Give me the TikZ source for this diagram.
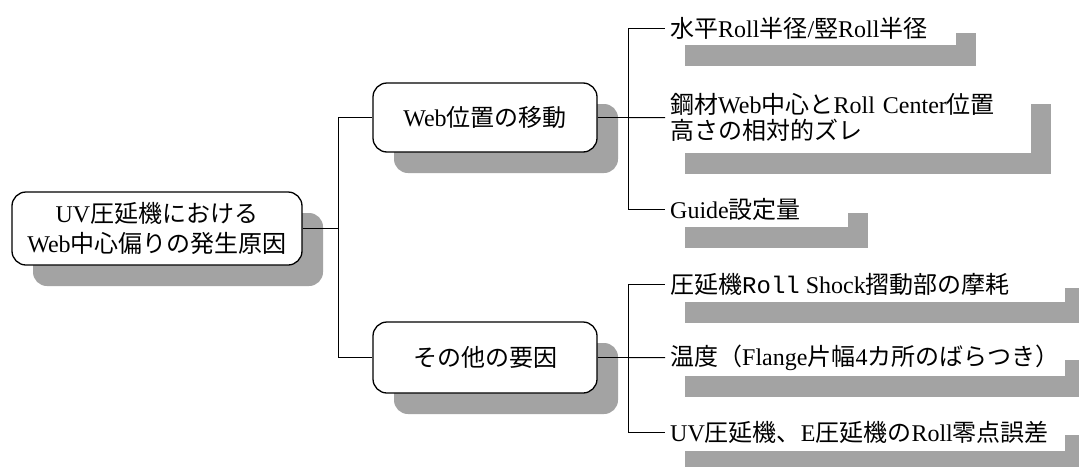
\documentclass[tikz,border=0pt]{standalone}
\usepackage{fontspec}
\setmainfont{Noto Sans CJK JP}
\newfontfamily\latf{Liberation Serif}
\newfontfamily\monof{Liberation Mono}
\newcommand\lt[1]{{\latf #1}}
\usetikzlibrary{shadows}
\begin{document}
\begin{tikzpicture}[x=1pt,y=-1pt,
  font=\fontsize{24}{30}\selectfont,
  shad/.style={drop shadow={shadow xshift=#1, shadow yshift=-21pt, fill=black!36, draw=none, opacity=1}},
  mainbox/.style={draw=black, line width=1.3pt, rounded corners=14pt, fill=white, inner sep=0pt, align=center,
     shad=21pt},
  leafbox/.style={fill=white, draw=none, inner xsep=5pt, inner ysep=0pt, align=left, anchor=north west,
     shad=20pt},
  conn/.style={draw=black, line width=1pt}
]
\useasboundingbox (0,0) rectangle (1079,466);
\clip (0,0) rectangle (1079,466);
\fill[white] (0,0) rectangle (1079,466);

% root and middle nodes
\node[mainbox, minimum width=290pt, minimum height=73pt] (root) at (157,228.5)
  {\lt{UV}圧延機における\\\lt{Web}中心偏りの発生原因};
\node[mainbox, minimum width=224pt, minimum height=69pt] (m1) at (485,117.5)
  {\lt{Web}位置の移動};
\node[mainbox, minimum width=224pt, minimum height=71pt] (m2) at (485,357.5)
  {その他の要因};

% leaves
\node[leafbox, text width=281pt, minimum height=33pt] (l1) at (665,12)
  {水平\lt{Roll}半径\lt{/}竪\lt{Roll}半径};
\node[leafbox, text width=356pt, minimum height=70pt, font=\fontsize{24}{26}\selectfont] (l2) at (665,82.5)
  {鋼材\lt{Web}中心と\lt{Roll Center}位置\\高さの相対的ズレ};
\node[leafbox, text width=173pt, minimum height=35pt] (l3) at (665,192)
  {\lt{Guide}設定量};
\node[leafbox, text width=390pt, minimum height=35pt] (l4) at (665,267)
  {圧延機{\monof Roll}\hspace{6pt}\lt{Shock}摺動部の摩耗};
\node[leafbox, text width=390pt, minimum height=37pt] (l5) at (665,339)
  {温度（\lt{Flange}片幅\lt{4}カ所のばらつき）};
\node[leafbox, text width=390pt, minimum height=37pt] (l6) at (665,414)
  {\lt{UV}圧延機、\lt{E}圧延機の\lt{Roll}零点誤差};

% junctions
\coordinate (j0) at (338,228.5);
\coordinate (j1) at (628,117.5);
\coordinate (j2) at (628,357.5);

% connectors
\draw[conn] (root.east) -- (j0) |- (m1.west);
\draw[conn] (j0) |- (m2.west);
\draw[conn] (m1.east) -- (j1) |- (l1.west);
\draw[conn] (j1) -- (l2.west);
\draw[conn] (j1) |- (l3.west);
\draw[conn] (m2.east) -- (j2) |- (l4.west);
\draw[conn] (j2) -- (l5.west);
\draw[conn] (j2) |- (l6.west);
\end{tikzpicture}
\end{document}
